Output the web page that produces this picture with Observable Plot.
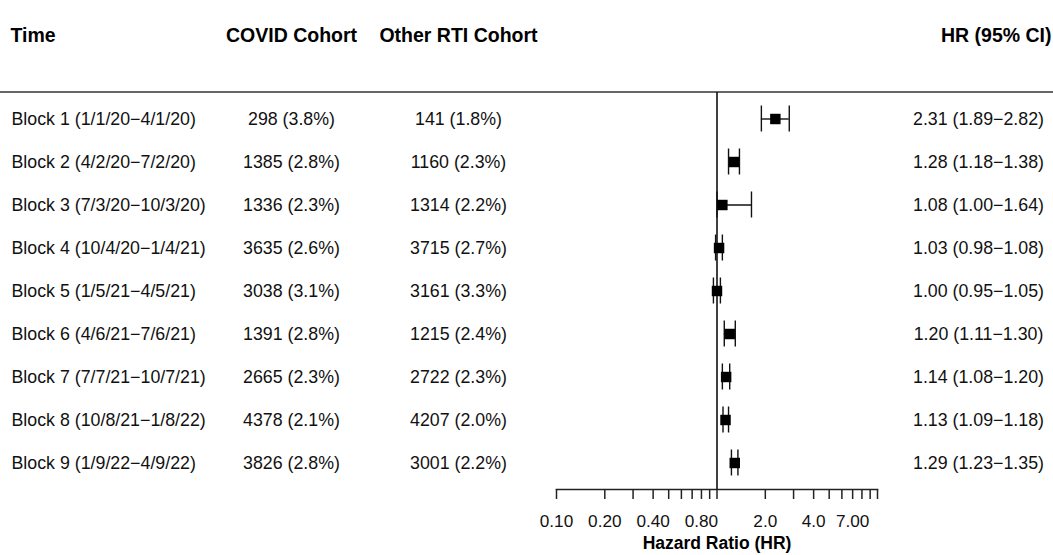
<!DOCTYPE html>
<html>
<head>
<meta charset="utf-8">
<script src="https://cdn.jsdelivr.net/npm/d3@7"></script>
<script src="https://cdn.jsdelivr.net/npm/@observablehq/plot@0.6"></script>
<style>
  html, body { margin: 0; padding: 0; background: #fff; }
  #chart svg { display: block; }
</style>
</head>
<body>
<div id="chart"></div>
<script>
const blocks = [
  "Block 1 (1/1/20−4/1/20)",
  "Block 2 (4/2/20−7/2/20)",
  "Block 3 (7/3/20−10/3/20)",
  "Block 4 (10/4/20−1/4/21)",
  "Block 5 (1/5/21−4/5/21)",
  "Block 6 (4/6/21−7/6/21)",
  "Block 7 (7/7/21−10/7/21)",
  "Block 8 (10/8/21−1/8/22)",
  "Block 9 (1/9/22−4/9/22)"
];
const covidCohort = ["298 (3.8%)", "1385 (2.8%)", "1336 (2.3%)", "3635 (2.6%)", "3038 (3.1%)", "1391 (2.8%)", "2665 (2.3%)", "4378 (2.1%)", "3826 (2.8%)"];
const otherCohort = ["141 (1.8%)", "1160 (2.3%)", "1314 (2.2%)", "3715 (2.7%)", "3161 (3.3%)", "1215 (2.4%)", "2722 (2.3%)", "4207 (2.0%)", "3001 (2.2%)"];
const hr   = [2.31, 1.28, 1.08, 1.03, 1.00, 1.20, 1.14, 1.13, 1.29];
const hrLo = [1.89, 1.18, 1.00, 0.98, 0.95, 1.11, 1.08, 1.09, 1.23];
const hrHi = [2.82, 1.38, 1.64, 1.08, 1.05, 1.30, 1.20, 1.18, 1.35];
const headers = ["Time", "COVID Cohort", "Other RTI Cohort", "HR (95% CI)"];
const tickValues = [0.1, 0.2, 0.3, 0.4, 0.5, 0.6, 0.7, 0.8, 0.9, 1, 2, 3, 4, 5, 6, 7, 8, 9, 10];
const labeledTicks = [0.1, 0.2, 0.4, 0.8, 2, 4, 7];
const tickLabels = ["0.10", "0.20", "0.40", "0.80", "2.0", "4.0", "7.00"];
const axisTitle = "Hazard Ratio (HR)";

const rows = blocks.map((b, i) => ({
  block: b,
  covid: covidCohort[i],
  other: otherCohort[i],
  hr: hr[i], lo: hrLo[i], hi: hrHi[i],
  hrText: `${hr[i].toFixed(2)} (${hrLo[i].toFixed(2)}−${hrHi[i].toFixed(2)})`
}));
const tickRows = labeledTicks.map((v, i) => ({ v, label: tickLabels[i] }));

const W = 1053, H = 555;
const mL = 556, mR = 176, mT = 92, mB = 66;
const FONT = "'Liberation Sans', Arial, Helvetica, sans-serif";
const bodySize = 17.8, headSize = 19.5;
const ink = "#111";

const fullWidthTopLine = (I, scales, values, dims) => {
  const line = d3.create("svg:line")
    .attr("x1", 0).attr("x2", dims.width)
    .attr("y1", dims.marginTop).attr("y2", dims.marginTop)
    .attr("stroke", "#333").attr("stroke-width", 1.6);
  return line.node();
};

const headerMark = (i, anchor, dx, textAnchor) =>
  Plot.text([headers[i]], {
    text: d => d, frameAnchor: anchor, dx, dy: -64,
    textAnchor, fontWeight: "bold", fontSize: headSize, fill: "#000"
  });

const chart = Plot.plot({
  width: W, height: H,
  marginLeft: mL, marginRight: mR, marginTop: mT, marginBottom: mB,
  style: { fontFamily: FONT, background: "#fff", overflow: "visible" },
  x: { type: "log", domain: [0.1, 10] },
  y: { type: "band", domain: blocks, paddingInner: 0, paddingOuter: 0.063, axis: null },
  marks: [
    fullWidthTopLine,
    Plot.frame({ anchor: "bottom", stroke: "#222", strokeWidth: 1.5 }),
    Plot.ruleX([1], { stroke: "#111", strokeWidth: 1.6 }),
    Plot.axisX({
      ticks: tickValues, tickFormat: () => "", tickSize: 10,
      stroke: "#222", strokeWidth: 1.5, label: null
    }),
    Plot.text(tickRows, {
      x: "v", text: "label", frameAnchor: "bottom", dy: 37,
      fontSize: 17.2, fill: "#111"
    }),
    Plot.text([axisTitle], {
      text: d => d, frameAnchor: "bottom", dy: 59,
      fontWeight: "bold", fontSize: 17.5, fill: "#000"
    }),
    // error bars
    Plot.ruleY(rows, { y: "block", x1: "lo", x2: "hi", stroke: ink, strokeWidth: 1.4 }),
    Plot.tickX(rows, { y: "block", x: "lo", stroke: ink, strokeWidth: 1.4, insetTop: 8.5, insetBottom: 8.5 }),
    Plot.tickX(rows, { y: "block", x: "hi", stroke: ink, strokeWidth: 1.4, insetTop: 8.5, insetBottom: 8.5 }),
    Plot.dot(rows, { y: "block", x: "hr", symbol: "square", r: 5.9, fill: "#000", stroke: null }),
    // table columns
    Plot.text(rows, { y: "block", text: "block", frameAnchor: "left", dx: 11 - mL, textAnchor: "start", fontSize: bodySize, fill: ink }),
    Plot.text(rows, { y: "block", text: "covid", frameAnchor: "left", dx: 291 - mL, textAnchor: "middle", fontSize: bodySize, fill: ink }),
    Plot.text(rows, { y: "block", text: "other", frameAnchor: "left", dx: 458 - mL, textAnchor: "middle", fontSize: bodySize, fill: ink }),
    Plot.text(rows, { y: "block", text: "hrText", frameAnchor: "right", dx: 978 - (W - mR), textAnchor: "middle", fontSize: bodySize, fill: ink }),
    // headers
    headerMark(0, "top-left", 10 - mL, "start"),
    headerMark(1, "top-left", 291 - mL, "middle"),
    headerMark(2, "top-left", 458 - mL, "middle"),
    headerMark(3, "top-right", 1051 - (W - mR), "end")
  ]
});
document.getElementById("chart").appendChild(chart);
</script>
</body>
</html>
